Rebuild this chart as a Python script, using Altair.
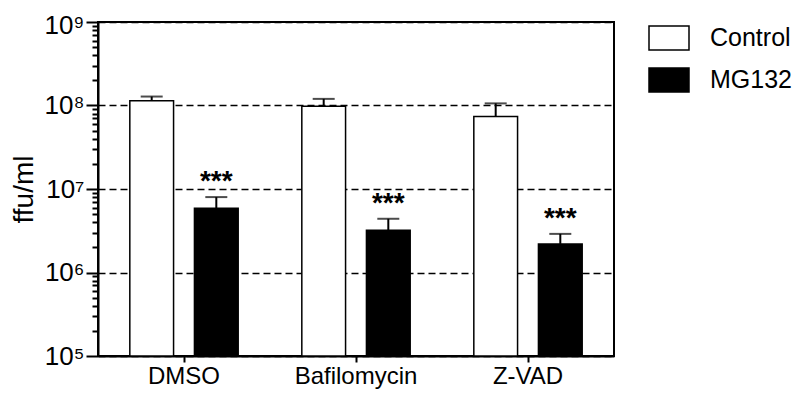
import altair as alt
import pandas as pd

treatments = ["DMSO", "Bafilomycin", "Z-VAD"]
groups = ["Control", "MG132"]
control_vals = [1.14e8, 0.98e8, 7.4e7]
control_err_top = [1.28e8, 1.20e8, 1.06e8]
mg132_vals = [5.9e6, 3.2e6, 2.2e6]
mg132_err_top = [8.0e6, 4.4e6, 2.9e6]
sig_labels = ["", "***"]

rows = []
for i, t in enumerate(treatments):
    rows.append({"treatment": t, "group": "Control", "value": control_vals[i],
                 "err": control_err_top[i], "base": 1e5, "sig": sig_labels[0]})
    rows.append({"treatment": t, "group": "MG132", "value": mg132_vals[i],
                 "err": mg132_err_top[i], "base": 1e5, "sig": sig_labels[1]})
df = pd.DataFrame(rows)

decades = [1e5, 1e6, 1e7, 1e8]
tick_values = [d * k for d in decades for k in range(1, 10)] + [1e9]

FONT = "Liberation Sans"
major_test = "abs(log(datum.value)/LN10 - round(log(datum.value)/LN10)) < 1e-6"
label_expr = ("abs(log(datum.value)/LN10 - round(log(datum.value)/LN10)) < 1e-6 ? "
              "'10' + ['⁰','¹','²','³','⁴','⁵','⁶','⁷','⁸','⁹'][round(log(datum.value)/LN10)] : ''")

x_enc = alt.X("treatment:N", sort=treatments,
              scale=alt.Scale(paddingInner=0.37, paddingOuter=0.185),
              axis=alt.Axis(title=None, labelAngle=0, labelFontSize=24, labelFont=FONT,
                            labelColor="black", domainColor="black", domainWidth=2,
                            tickColor="black", tickWidth=2, tickSize=6, labelPadding=2))
xo_enc = alt.XOffset("group:N", sort=groups, scale=alt.Scale(paddingInner=0.323))
y_scale = alt.Scale(type="log", domain=[1e5, 1e9], clamp=True)

bars = alt.Chart(df).mark_bar(stroke="black", strokeWidth=1.5).encode(
    x=x_enc,
    xOffset=xo_enc,
    y=alt.Y("value:Q", scale=y_scale,
            axis=alt.Axis(title="ffu/ml", titleFontSize=28, titleFont=FONT, titleFontWeight="normal",
                          titleColor="black", titlePadding=5,
                          values=tick_values, labelExpr=label_expr, labelFontSize=26,
                          labelFont=FONT, labelColor="black", labelPadding=2,
                          labelOffset={"condition": {"test": "datum.value >= 1e9", "value": 3}, "value": 0},
                          domainColor="black", domainWidth=2, tickColor="black", tickWidth=2,
                          tickSize={"condition": {"test": major_test, "value": 12}, "value": 6},
                          grid=True, gridColor="black", gridWidth=1.5, gridDash=[7, 4],
                          gridOpacity={"condition": {"test": major_test, "value": 1}, "value": 0})),
    y2="base:Q",
    color=alt.Color("group:N", sort=groups,
                    scale=alt.Scale(domain=groups, range=["white", "black"]),
                    legend=alt.Legend(title=None, orient="none", legendX=550, legendY=-5,
                                      symbolType="M-1,-0.6H1V0.6H-1Z", symbolSize=1600,
                                      symbolStrokeColor="black", symbolStrokeWidth=1.5,
                                      labelFontSize=25, labelFont=FONT, labelColor="black",
                                      labelOffset=20, rowPadding=6, padding=0)),
)

err_rule = alt.Chart(df).mark_rule(color="black", strokeWidth=2).encode(
    x=alt.X("treatment:N", sort=treatments), xOffset=alt.XOffset("group:N", sort=groups),
    y=alt.Y("value:Q", scale=y_scale), y2="err:Q")

err_cap = alt.Chart(df).mark_tick(color="black", thickness=2, size=22).encode(
    x=alt.X("treatment:N", sort=treatments), xOffset=alt.XOffset("group:N", sort=groups),
    y=alt.Y("err:Q", scale=y_scale))

stars = alt.Chart(df).mark_text(fontSize=28, font=FONT, fontWeight="bold", color="black",
                                baseline="alphabetic", dy=-7).encode(
    x=alt.X("treatment:N", sort=treatments), xOffset=alt.XOffset("group:N", sort=groups),
    y=alt.Y("err:Q", scale=y_scale), text="sig:N")

chart = alt.layer(bars, err_rule, err_cap, stars).properties(
    width=516, height=334,
    autosize=alt.AutoSizeParams(type="none"),
    padding={"left": 90, "top": 14, "right": 178, "bottom": 38},
).configure_view(stroke="black", strokeWidth=2)

chart.save("out.html", embed_options={"renderer": "svg", "actions": False})
